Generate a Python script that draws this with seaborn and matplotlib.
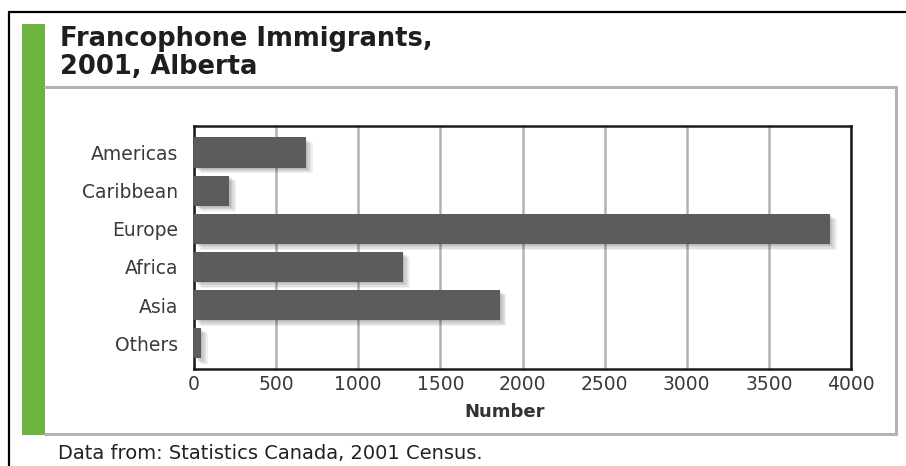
import matplotlib
matplotlib.use("Agg")
import matplotlib.pyplot as plt
import matplotlib.patheffects as pe
from matplotlib.lines import Line2D
from matplotlib.patches import Rectangle
import seaborn as sns
import pandas as pd

categories = ["Americas", "Caribbean", "Europe", "Africa", "Asia", "Others"]
values = [680, 215, 3870, 1270, 1860, 40]
x_ticks = [0, 500, 1000, 1500, 2000, 2500, 3000, 3500, 4000]
title_lines = ["Francophone Immigrants,", "2001, Alberta"]
x_label = "Number"
source = "Data from: Statistics Canada, 2001 Census."

W, H = 906, 466
sns.set_theme(style="white")
plt.rcParams["font.family"] = ["DejaVu Sans"]

fig = plt.figure(figsize=(W / 100, H / 100), dpi=100)
fig.patch.set_facecolor("white")

def fx(px):
    return px / W

def fy(py):
    return 1 - py / H

# axes
ax_l, ax_r, ax_t, ax_b = 194, 851, 126, 369
ax = fig.add_axes([fx(ax_l), fy(ax_b), (ax_r - ax_l) / W, (ax_b - ax_t) / H])

df = pd.DataFrame({"region": categories, "count": values})
sns.barplot(data=df, x="count", y="region", orient="h", color="#5b5c5c",
            saturation=1, width=0.8, ax=ax, zorder=3)

shadow = [pe.SimplePatchShadow(offset=(o, -o * 0.8), shadow_rgbFace="black", alpha=0.06)
          for o in (1.0, 2.0, 3.0, 4.0, 5.0)] + [pe.Normal()]
for p in ax.patches:
    p.set_path_effects(shadow)
    p.set_edgecolor("none")

ax.set_xlim(0, 4000)
ax.set_ylim(5.68, -0.70)
ax.set_xticks(x_ticks)
ax.set_xticklabels([str(t) for t in x_ticks])
ax.set_axisbelow(True)
ax.xaxis.grid(True, color="#b2b2b2", linewidth=1.8)
ax.yaxis.grid(False)
for s in ax.spines.values():
    s.set_color("#1a1a1a")
    s.set_linewidth(1.8)
    s.set_visible(True)
ax.tick_params(axis="both", length=0, labelsize=13.5, labelcolor="#3a3a3a")
ax.tick_params(axis="y", pad=11.5)
ax.tick_params(axis="x", pad=4)
ax.set_ylabel("")
ax.set_xlabel(x_label, fontsize=13, fontweight="bold", color="#333333", va="center")
ax.xaxis.set_label_coords((505 - ax_l) / (ax_r - ax_l), (ax_b - 412) / (ax_b - ax_t))

# frame decorations
fig.add_artist(Line2D([fx(9), fx(9)], [fy(12), fy(466)], color="black", lw=1.6))
fig.add_artist(Line2D([fx(9), fx(906)], [fy(12), fy(12)], color="black", lw=1.6))
fig.add_artist(Rectangle((fx(22), fy(435)), (45 - 22) / W, (435 - 24) / H,
                         facecolor="#6cb33f", edgecolor="none"))
grey = "#b3b3b3"
fig.add_artist(Line2D([fx(45), fx(896)], [fy(87), fy(87)], color=grey, lw=2.2))
fig.add_artist(Line2D([fx(896), fx(896)], [fy(87), fy(434)], color=grey, lw=2.2))
fig.add_artist(Line2D([fx(45), fx(896)], [fy(434), fy(434)], color=grey, lw=2.2))

# titles
fig.text(fx(60), fy(45.5), title_lines[0], fontsize=18.5, fontweight="bold",
         color="#1e1e1e", va="baseline", ha="left")
fig.text(fx(60), fy(73.5), title_lines[1], fontsize=18.5, fontweight="bold",
         color="#1e1e1e", va="baseline", ha="left")
fig.text(fx(58), fy(459), source, fontsize=14, color="#222222",
         va="baseline", ha="left")

fig.savefig("out.png", dpi=100)
